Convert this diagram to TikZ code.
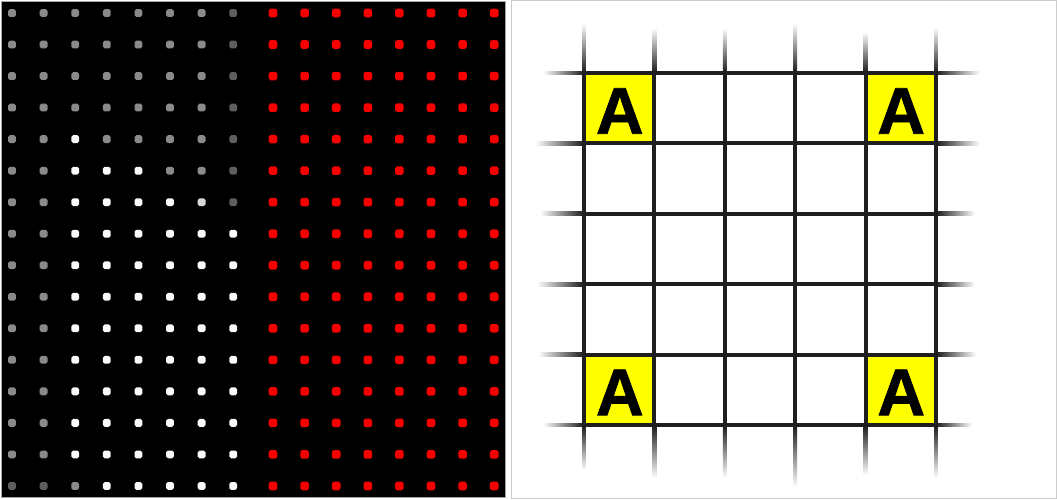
\documentclass[tikz,border=0pt]{standalone}
\usepackage{fontspec}
\newfontfamily\afont{Liberation Sans}[BoldFeatures={FakeBold=1.2}]
\definecolor{G}{HTML}{8A8A8A}
\definecolor{D}{HTML}{5E5E5E}
\definecolor{W}{HTML}{FAFAFA}
\definecolor{L}{HTML}{D8D8D8}
\definecolor{R}{HTML}{F80000}
\definecolor{cellyellow}{HTML}{FFFF00}
\newcommand\mydot[4]{%
  \fill[fill=#3, rounded corners=1.8pt] ({#1-#4},{#2-#4}) rectangle ({#1+#4},{#2+#4});}
\tikzset{
  gridline/.style={line width=3.9pt, black!88},
  letterA/.style={inner sep=0pt, text depth=0pt, font=\afont\bfseries\fontsize{66}{66}\selectfont, text=black}
}
\begin{document}
\begin{tikzpicture}[x=1pt,y=1pt]
\useasboundingbox (0,0) rectangle (1057,-499);
\fill[white] (0,0) rectangle (1057,-499);
% left panel
\fill[black] (1.5,-1.5) rectangle (505.5,-497.5);
\draw[gray!70, line width=1.2pt] (1.5,-1.5) rectangle (505.5,-497.5);
% right panel frame
\draw[black!20, line width=1pt] (511,-0.5) rectangle (1056,-498);
% left dots
\foreach \j/\pa/\pb/\pc/\pd/\pe/\pf/\pg/\ph in {
  0/G/G/G/G/G/G/G/D, 1/G/G/G/G/G/G/G/D, 2/G/G/G/G/G/G/G/D, 3/G/G/G/G/G/G/G/D,
  4/G/G/W/G/G/G/G/D, 5/G/G/W/W/W/G/G/D, 6/G/G/W/W/W/W/L/D, 7/G/G/W/W/W/W/W/W,
  8/G/G/W/W/W/W/W/W, 9/G/G/W/W/W/W/W/W, 10/G/G/W/W/W/W/W/W, 11/G/G/W/W/W/W/W/W,
  12/G/G/W/W/W/W/W/W, 13/G/G/W/W/W/W/W/W, 14/G/G/W/W/W/W/W/W, 15/D/D/G/W/W/W/W/W}{
  \foreach \i/\c in {0/\pa,1/\pb,2/\pc,3/\pd,4/\pe,5/\pf,6/\pg,7/\ph}{
    \mydot{12+31.6*\i}{-13-31.53*\j}{\c}{3.9}
  }
  \foreach \i in {0,...,7}{
    \mydot{273+31.6*\i}{-13-31.53*\j}{R}{4.3}
  }
}
% yellow cells
\foreach \cx/\cy in {0/0,4/0,0/4,4/4}{
  \fill[cellyellow] ({584+70.4*\cx},{-73-70.4*\cy}) rectangle ({584+70.4*(\cx+1)},{-73-70.4*(\cy+1)});
}
\node[letterA] (a1) at (619.8,-111) {A};
\node[letterA] (a2) at (901.2,-111) {A};
\node[letterA] (a3) at (619.8,-392.4) {A};
\node[letterA] (a4) at (901.2,-392.4) {A};
% vertical lines with faded ends
\foreach \i/\t/\b in {0/23/470, 1/28/478, 2/28/478, 3/23/487, 4/32/475, 5/27/478}{
  \pgfmathsetmacro\xx{584+70.4*\i}
  \shade[top color=white, middle color=black!70, bottom color=black!90] ({\xx-1.9},-\t) rectangle ({\xx+1.9},-73);
  \shade[top color=black!90, middle color=black!70, bottom color=white] ({\xx-1.9},-425) rectangle ({\xx+1.9},-\b);
  \draw[gridline] (\xx,-73) -- (\xx,-425);
}
% horizontal lines with faded ends
\foreach \j/\l/\r in {0/543/980, 1/535/980, 2/540/975, 3/537/975, 4/538/976, 5/543/972}{
  \pgfmathsetmacro\yy{73+70.4*\j}
  \shade[left color=white, middle color=black!70, right color=black!90] (\l,{-\yy-1.9}) rectangle (584,{-\yy+1.9});
  \shade[left color=black!90, middle color=black!70, right color=white] (936,{-\yy-1.9}) rectangle (\r,{-\yy+1.9});
  \draw[gridline] (584,-\yy) -- (936,-\yy);
}
\end{tikzpicture}
\end{document}
